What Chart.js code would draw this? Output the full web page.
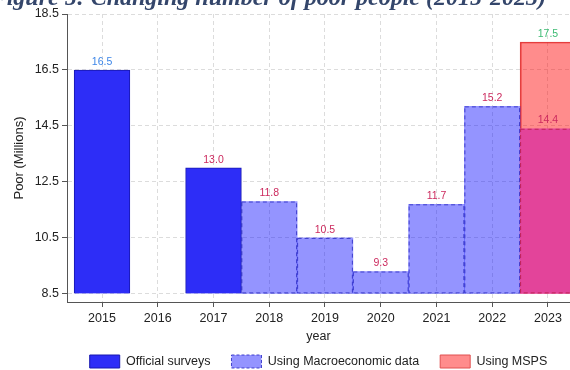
<!DOCTYPE html>
<html>
<head>
<meta charset="utf-8">
<script src="https://cdn.jsdelivr.net/npm/chart.js@4.4.0/dist/chart.umd.min.js"></script>
<style>
  html, body { margin: 0; padding: 0; background: #fff; overflow: hidden; }
  #wrap { position: relative; width: 570px; height: 370px; }
  #title {
    position: absolute; right: 24px; top: -15px;
    font: italic bold 24px/24px "Liberation Serif", "DejaVu Serif", serif;
    color: #34466b; white-space: nowrap;
  }
  canvas { position: absolute; left: 0; top: 0; }
</style>
</head>
<body>
<div id="wrap">
  <canvas id="poorChart" width="570" height="370"></canvas>
  <div id="title">Figure 5: Changing number of poor people (2015-2023)</div>
</div>
<script>
// years on the x axis
const years = [2015, 2016, 2017, 2018, 2019, 2020, 2021, 2022, 2023];

// Official surveys
const officialYears = [2015, 2017];
const officialValues = [16.5, 13.0];

// Using Macroeconomic data
const macroYears = [2018, 2019, 2020, 2021, 2022, 2023];
const macroValues = [11.8, 10.5, 9.3, 11.7, 15.2, 14.4];

// Using MSPS
const mspsYears = [2023];
const mspsValues = [17.5];

// y axis ticks
const yTicks = [8.5, 10.5, 12.5, 14.5, 16.5, 18.5];

const toPoints = (xs, ys) => xs.map((x, i) => ({ x: x, y: ys[i] }));

// value labels above each bar
const barLabels = {
  id: 'barLabels',
  afterDatasetsDraw(chart) {
    const ctx = chart.ctx;
    ctx.save();
    ctx.font = '10.5px "Liberation Sans", Arial, sans-serif';
    ctx.textAlign = 'center';
    ctx.textBaseline = 'bottom';
    chart.data.datasets.forEach((ds, i) => {
      chart.getDatasetMeta(i).data.forEach((bar, j) => {
        ctx.fillStyle = ds.labelColors[j];
        ctx.fillText(ds.data[j].y.toFixed(1), bar.x, bar.y - 3);
      });
    });
    ctx.restore();
  }
};

// dashed outline for the macro bars (bar element has no dash option)
const dashedBars = {
  id: 'dashedBars',
  afterDatasetDraw(chart, args) {
    const ds = chart.data.datasets[args.index];
    if (!ds.dashColors) return;
    const ctx = chart.ctx;
    ctx.save();
    ctx.lineWidth = 1;
    ctx.setLineDash([4, 3]);
    args.meta.data.forEach((bar, j) => {
      const p = bar.getProps(['x', 'y', 'base', 'width'], true);
      ctx.strokeStyle = ds.dashColors[j];
      ctx.strokeRect(p.x - p.width / 2 + 0.5, p.y + 0.5, p.width - 1, p.base - p.y - 1);
    });
    ctx.restore();
  }
};

const legendStyle = [
  { fill: '#2d2df7', stroke: '#1818b0', dash: [] },
  { fill: 'rgba(0,0,255,0.42)', stroke: 'rgba(50,50,200,0.9)', dash: [3, 2] },
  { fill: 'rgba(255,0,0,0.45)', stroke: '#e05050', dash: [] }
];

const ctx = document.getElementById('poorChart');

new Chart(ctx, {
  type: 'bar',
  data: {
    datasets: [
      {
        label: 'Official surveys',
        data: toPoints(officialYears, officialValues),
        backgroundColor: '#2d2df7',
        borderColor: '#1818b0',
        borderWidth: 1,
        labelColors: ['#3d86e8', '#cc2a5e'],
        order: 1
      },
      {
        label: 'Using Macroeconomic data',
        data: toPoints(macroYears, macroValues),
        backgroundColor: ['rgba(0,0,255,0.42)', 'rgba(0,0,255,0.42)', 'rgba(0,0,255,0.42)',
                          'rgba(0,0,255,0.42)', 'rgba(0,0,255,0.42)', '#e3449a'],
        borderWidth: 0,
        dashColors: ['rgba(50,50,200,0.9)', 'rgba(50,50,200,0.9)', 'rgba(50,50,200,0.9)',
                     'rgba(50,50,200,0.9)', 'rgba(50,50,200,0.9)', 'rgba(190,30,80,0.9)'],
        labelColors: ['#cc2a5e', '#cc2a5e', '#cc2a5e', '#cc2a5e', '#cc2a5e', '#cc2a5e'],
        order: 2
      },
      {
        label: 'Using MSPS',
        data: toPoints(mspsYears, mspsValues),
        backgroundColor: 'rgba(255,0,0,0.45)',
        borderColor: 'rgba(220,50,50,0.9)',
        borderWidth: 1,
        labelColors: ['#3dbb73'],
        order: 3
      }
    ]
  },
  options: {
    responsive: false,
    animation: false,
    grouped: false,
    base: 8.5,
    barPercentage: 1,
    categoryPercentage: 1,
    layout: { padding: { top: 14, left: 0, right: 0, bottom: -8 } },
    scales: {
      x: {
        type: 'linear',
        offset: false,
        min: 2014.372,
        max: 2023.395,
        afterBuildTicks: (scale) => { scale.ticks = years.map(v => ({ value: v })); },
        afterFit: (scale) => { scale.height = 32; },
        ticks: {
          includeBounds: false,
          callback: (v) => String(v),
          font: { size: 12.5, family: '"Liberation Sans", Arial, sans-serif' },
          color: '#222',
          padding: 4,
          maxRotation: 0
        },
        grid: { offset: false, color: '#dcdcdc', tickColor: '#555', tickLength: 5, tickBorderDash: [] },
        border: { color: '#555', width: 1, dash: [4, 3] },
        title: {
          display: true, text: 'year', color: '#222',
          font: { size: 12.5, family: '"Liberation Sans", Arial, sans-serif' },
          padding: { top: 0, bottom: -10 }
        }
      },
      y: {
        min: 8.21,
        max: 18.5,
        afterBuildTicks: (scale) => { scale.ticks = yTicks.map(v => ({ value: v })); },
        afterFit: (scale) => { scale.width = 67; },
        ticks: {
          callback: (v) => v.toFixed(1),
          font: { size: 12.5, family: '"Liberation Sans", Arial, sans-serif' },
          color: '#222',
          padding: 3
        },
        grid: { color: '#dcdcdc', tickColor: '#555', tickLength: 5, tickBorderDash: [] },
        border: { color: '#555', width: 1, dash: [4, 3] },
        title: {
          display: true, text: 'Poor (Millions)', color: '#222',
          font: { size: 13, family: '"Liberation Sans", Arial, sans-serif' },
          padding: { top: 12, bottom: 0 }
        }
      }
    },
    plugins: {
      tooltip: { enabled: false },
      legend: {
        position: 'bottom',
        fullSize: false,
        labels: {
          boxWidth: 30,
          boxHeight: 13,
          padding: 21,
          color: '#222',
          font: { size: 12.5, family: '"Liberation Sans", Arial, sans-serif' },
          generateLabels: (chart) => {
            const items = Chart.defaults.plugins.legend.labels.generateLabels(chart);
            items.forEach(it => {
              const s = legendStyle[it.datasetIndex];
              it.fillStyle = s.fill;
              it.strokeStyle = s.stroke;
              it.lineWidth = 1;
              it.lineDash = s.dash;
            });
            return items;
          }
        }
      }
    }
  },
  plugins: [dashedBars, barLabels]
});
</script>
</body>
</html>
